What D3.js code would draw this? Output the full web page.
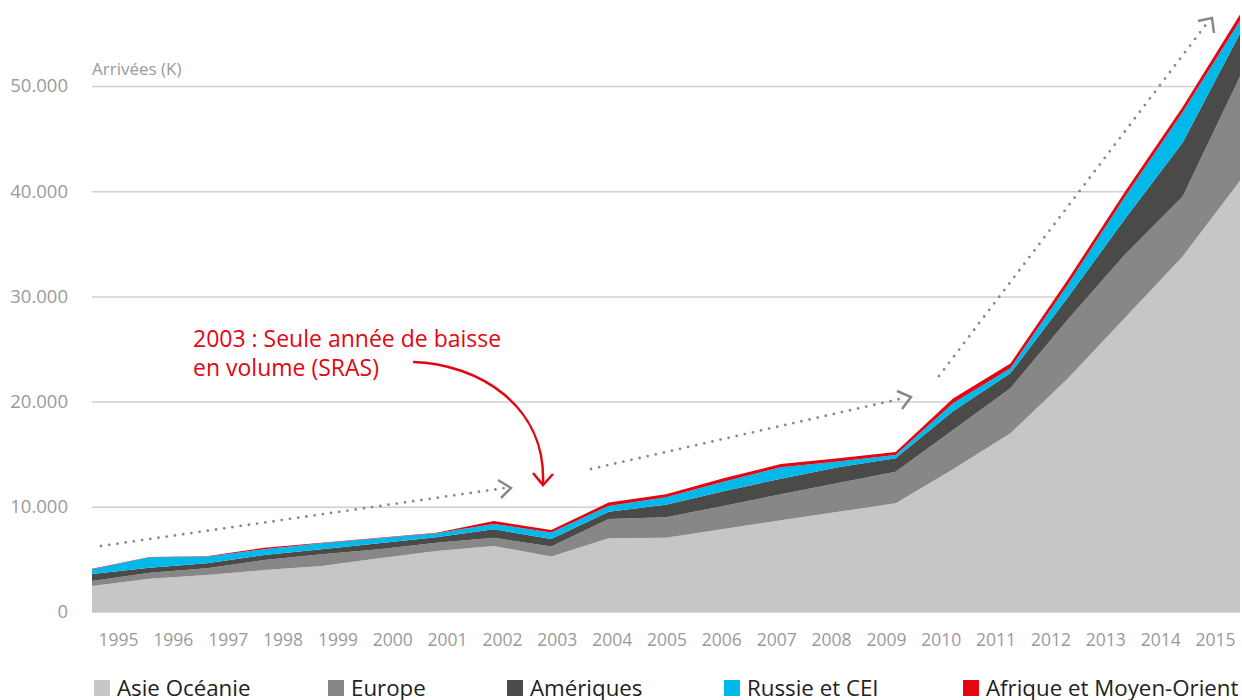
<!DOCTYPE html>
<html><head><meta charset="utf-8">
<script src="https://cdn.jsdelivr.net/npm/d3@7"></script>
<style>
html,body{margin:0;padding:0;background:#fff;}
svg{display:block;font-family:"Open Sans",Lato,sans-serif;}
</style></head>
<body><svg id="c" width="1242" height="700"></svg>
<script>
const years = [1995,1996,1997,1998,1999,2000,2001,2002,2003,2004,2005,2006,2007,2008,2009,2010,2011,2012,2013,2014,2015];
const seriesNames = ["Asie Océanie","Europe","Amériques","Russie et CEI","Afrique et Moyen-Orient"];
const asie     = [2470,3170,3520,3990,4370,5100,5800,6270,5280,7000,7060,7890,8720,9520,10330,13560,16990,22200,28000,33800,41000];
const europe   = [480,570,630,950,1110,860,790,790,950,1840,1940,2190,2470,2740,3010,3740,4280,5600,6000,5700,9900];
const ameriques= [660,470,480,480,480,570,510,800,710,690,1200,1390,1480,1490,1270,1780,1420,2100,3400,5100,4100];
const russie   = [450,990,630,540,570,470,380,510,620,550,700,920,1080,550,310,760,480,1200,2100,2900,1200];
const afrique  = [40,30,30,150,60,60,60,280,230,320,300,330,320,320,280,450,450,500,500,500,600];
const yTicks = [0,10000,20000,30000,40000,50000];
const colors = ["#c5c6c5","#878787","#4a4a48","#00b9eb","#e30613"];
const yTitle = "Arrivées (K)";
const noteLines = ["2003 : Seule année de baisse","en volume (SRAS)"];

const FONT = "'Open Sans',Lato,sans-serif";
const svg = d3.select("#c");
const loc = d3.formatLocale({decimal:",",thousands:".",grouping:[3],currency:["",""]});
const fmt = loc.format(",");

const x = d3.scalePoint().domain(years).range([92,1240]);
const xLab = d3.scalePoint().domain(years).range([118,1215]);
const y = d3.scaleLinear().domain([0,50000]).range([612,86]);

const table = years.map((yr,i)=>({year:yr, s0:asie[i], s1:europe[i], s2:ameriques[i], s3:russie[i], s4:afrique[i]}));
const stack = d3.stack().keys(["s0","s1","s2","s3","s4"]);
const layers = stack(table);

// grid
const yAxis = d3.axisLeft(y).tickValues(yTicks).tickSize(-(1240-92)).tickFormat(fmt).tickPadding(24);
const gy = svg.append("g").attr("transform","translate(92,0)").call(yAxis);
gy.select(".domain").remove();
gy.selectAll(".tick line").attr("stroke","#cfcfcf").attr("stroke-width",1.5)
  .attr("display",d=>d===0?"none":null);
gy.selectAll(".tick text").attr("fill","#9a9a9a").attr("font-size",18.5).attr("font-family",FONT);

// areas
const area = d3.area().x(d=>x(d.data.year)).y0(d=>y(d[0])).y1(d=>y(d[1])).curve(d3.curveLinear);
svg.append("g").selectAll("path").data(layers).join("path")
  .attr("d",area).attr("fill",(d,i)=>colors[i]);

// baseline
svg.append("line").attr("x1",92).attr("x2",1240).attr("y1",y(0)).attr("y2",y(0))
  .attr("stroke","#aac3cf").attr("stroke-width",1.2);

// x labels
const xAxis = d3.axisBottom(xLab).tickSize(0).tickPadding(0);
const gx = svg.append("g").attr("transform","translate(0,634)").call(xAxis);
gx.select(".domain").remove();
gx.selectAll(".tick text").attr("fill","#9a9a9a").attr("font-size",17.5).attr("font-family",FONT).attr("dy","0.71em");

// y title
svg.append("text").attr("x",92).attr("y",75).attr("fill","#9a9a9a").attr("font-size",17).text(yTitle);

// dotted trend arrows
const dotted = [
  {x1:101,y1:546,x2:505,y2:488, head:[[498,480],[511,488],[501,498]]},
  {x1:591,y1:469,x2:904,y2:398, head:[[897,391],[911,397],[902,409]]},
  {x1:939,y1:376,x2:1208,y2:22, head:[[1198,21],[1212,18],[1214,33]]}
];
dotted.forEach(a=>{
  svg.append("line").attr("x1",a.x1).attr("y1",a.y1).attr("x2",a.x2).attr("y2",a.y2)
    .attr("stroke","#888").attr("stroke-width",2.8).attr("stroke-linecap","round")
    .attr("stroke-dasharray","0 8.3");
  svg.append("path").attr("d",d3.line()(a.head)).attr("fill","none")
    .attr("stroke","#888").attr("stroke-width",2.5);
});

// annotation
const note = svg.append("text").attr("fill","#e30613").attr("font-size",23);
noteLines.forEach((t,i)=>note.append("tspan").attr("x",193).attr("y",347+i*29).text(t));
svg.append("path").attr("d","M413,362 C478,364 546,405 543,483")
  .attr("fill","none").attr("stroke","#e30613").attr("stroke-width",2.5);
svg.append("path").attr("d","M533,473 L543,485 L553,474")
  .attr("fill","none").attr("stroke","#e30613").attr("stroke-width",2.5);

// legend
const legX = [94,328,507,724,963];
const lg = svg.append("g").selectAll("g").data(seriesNames).join("g")
  .attr("transform",(d,i)=>`translate(${legX[i]},680)`);
lg.append("rect").attr("width",16).attr("height",16).attr("fill",(d,i)=>colors[i]);
lg.append("text").attr("x",23).attr("y",16).attr("fill","#222").attr("font-size",22.3).text(d=>d);
</script></body></html>
